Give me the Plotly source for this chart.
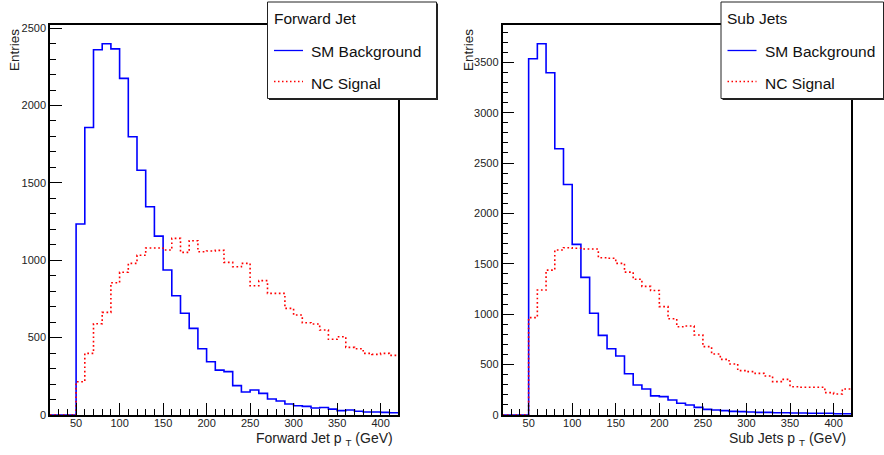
import plotly.graph_objects as go

# ---------------- data ----------------
bin_edges = list(range(20, 430, 10))  # 20 .. 420, 40 bins of 10 GeV

fwd_background = [0, 0, 0,
                  1234, 1858, 2360, 2399, 2366, 2175, 1798, 1581, 1346, 1156,
                  937, 771, 657, 560, 428, 344, 290, 280, 190, 149,
                  162, 140, 103, 90, 71, 60, 56, 45, 48, 38,
                  28, 32, 24, 19, 19, 17, 15]
fwd_signal = [0, 0, 0,
              215, 398, 590, 663, 855, 922, 980, 1032, 1079, 1079,
              1066, 1141, 1051, 1126, 1055, 1060, 1064, 986, 958, 980,
              835, 868, 786, 786, 689, 646, 596, 588, 549, 489,
              506, 437, 428, 398, 392, 398, 385]
sub_background = [0, 0, 0,
                  3535, 3684, 3396, 2642, 2288, 1693, 1366, 1009, 790, 658,
                  585, 410, 298, 258, 190, 182, 149, 116, 99, 76,
                  56, 50, 43, 36, 33, 30, 26, 26, 23, 23,
                  20, 20, 17, 17, 17, 13, 13]
sub_signal = [0, 0, 0,
              966, 1240, 1438, 1637, 1660, 1655, 1647, 1647, 1561, 1555,
              1505, 1418, 1347, 1276, 1235, 1075, 955, 876, 883, 794,
              678, 605, 552, 506, 440, 430, 413, 387, 331, 354,
              281, 275, 275, 275, 222, 208, 258]

legend_titles = ["Forward Jet", "Sub Jets"]
series_names = ["SM Background", "NC Signal"]
x_titles = ["Forward Jet p <sub>T</sub> (GeV)", "Sub Jets p <sub>T</sub> (GeV)"]
y_title = "Entries"
y_max = [2520, 3870]

W, H = 884, 455
FONT = "Liberation Sans, Arial, Helvetica, sans-serif"
BLUE = "#0000ff"
RED = "#ff0000"


def px(x):
    return x / W


def py(y):
    return 1 - y / H


def step(values):
    xs = list(bin_edges)
    ys = list(values) + [values[-1]]
    return xs, ys


fig = go.Figure()

panels = [
    (fwd_background, fwd_signal, "x", "y"),
    (sub_background, sub_signal, "x2", "y2"),
]
for bkg, sig, xa, ya in panels:
    xs, ys = step(bkg)
    fig.add_trace(go.Scatter(x=xs, y=ys, mode="lines", line_shape="hv",
                             line=dict(color=BLUE, width=1.6),
                             name=series_names[0], showlegend=False,
                             xaxis=xa, yaxis=ya))
    xs, ys = step(sig)
    fig.add_trace(go.Scatter(x=xs, y=ys, mode="lines", line_shape="hv",
                             line=dict(color=RED, width=1.6, dash="1.7px,2.6px"),
                             name=series_names[1], showlegend=False,
                             xaxis=xa, yaxis=ya))

# plot frames (pixel positions)
frames = [(50, 398), (502.5, 851)]
top_px, bot_px = 25, 415

axis_common = dict(showline=True, linecolor="black", linewidth=1.5, mirror=True,
                   ticks="inside", tickcolor="black", tickwidth=1,
                   showgrid=False, zeroline=False, automargin=False,
                   tickfont=dict(family=FONT, size=11, color="#222"))

xaxis_common = dict(range=[20, 420], tick0=0, dtick=50, ticklen=12,
                    ticklabelstandoff=-3,
                    minor=dict(dtick=10, ticklen=6, ticks="inside", tickcolor="black"),
                    **axis_common)
yaxis_common = dict(tick0=0, dtick=500, ticklen=12,
                    minor=dict(dtick=100, ticklen=6, ticks="inside", tickcolor="black"),
                    **axis_common)

fig.update_layout(
    xaxis=dict(domain=[px(frames[0][0]), px(frames[0][1])], anchor="y", **xaxis_common),
    yaxis=dict(domain=[py(bot_px), py(top_px)], anchor="x", range=[0, y_max[0]], **yaxis_common),
    xaxis2=dict(domain=[px(frames[1][0]), px(frames[1][1])], anchor="y2", **xaxis_common),
    yaxis2=dict(domain=[py(bot_px), py(top_px)], anchor="x2", range=[0, y_max[1]], **yaxis_common),
)

annotations = []
shapes = []

# axis titles
entries_x = [14, 468]
for i, (l, r) in enumerate(frames):
    annotations.append(dict(text=y_title, xref="paper", yref="paper",
                            x=px(entries_x[i]), y=py(27), xanchor="center", yanchor="top",
                            textangle=-90, showarrow=False,
                            font=dict(family=FONT, size=13.5, color="#222")))
    annotations.append(dict(text=x_titles[i], xref="paper", yref="paper",
                            x=px(r - 3), y=py(439), xanchor="right", yanchor="middle",
                            showarrow=False,
                            font=dict(family=FONT, size=14, color="#222")))

# legends (pixel boxes)
legend_boxes = [(267.5, 2, 436.5, 98.5), (721, 2, 883.5, 98.5)]
for i, (x0, y0, x1, y1) in enumerate(legend_boxes):
    # shadow
    shapes.append(dict(type="rect", xref="paper", yref="paper",
                       x0=px(x0 + 1.5), x1=px(x1 + 1.5), y0=py(y1 + 1.5), y1=py(y0 + 1.5),
                       line=dict(width=0), fillcolor="#222", layer="above"))
    shapes.append(dict(type="rect", xref="paper", yref="paper",
                       x0=px(x0), x1=px(x1), y0=py(y1), y1=py(y0),
                       line=dict(width=1, color="#222"), fillcolor="white", layer="above"))
    annotations.append(dict(text=legend_titles[i], xref="paper", yref="paper",
                            x=px(x0 + 4), y=py(19), xanchor="left", yanchor="middle",
                            showarrow=False,
                            font=dict(family=FONT, size=15.5, color="#111")))
    sx0, sx1 = x0 + 6.5, x0 + 35.5
    shapes.append(dict(type="line", xref="paper", yref="paper",
                       x0=px(sx0), x1=px(sx1), y0=py(50.5), y1=py(50.5),
                       line=dict(color=BLUE, width=1.3), layer="above"))
    shapes.append(dict(type="line", xref="paper", yref="paper",
                       x0=px(sx0), x1=px(sx1), y0=py(81.5), y1=py(81.5),
                       line=dict(color=RED, width=1.5, dash="1.5px,2.5px"), layer="above"))
    annotations.append(dict(text=series_names[0], xref="paper", yref="paper",
                            x=px(x0 + 41.5), y=py(51.5), xanchor="left", yanchor="middle",
                            showarrow=False,
                            font=dict(family=FONT, size=15.5, color="#111")))
    annotations.append(dict(text=series_names[1], xref="paper", yref="paper",
                            x=px(x0 + 41.5), y=py(83), xanchor="left", yanchor="middle",
                            showarrow=False,
                            font=dict(family=FONT, size=15.5, color="#111")))

fig.update_layout(
    width=W, height=H,
    margin=dict(l=0, r=0, t=0, b=0),
    paper_bgcolor="white", plot_bgcolor="white",
    showlegend=False,
    annotations=annotations, shapes=shapes,
    font=dict(family=FONT),
)

fig.write_html("out.html",
               config={"displayModeBar": False},
               post_script="document.body.style.margin='0';document.body.style.overflow='hidden';")
